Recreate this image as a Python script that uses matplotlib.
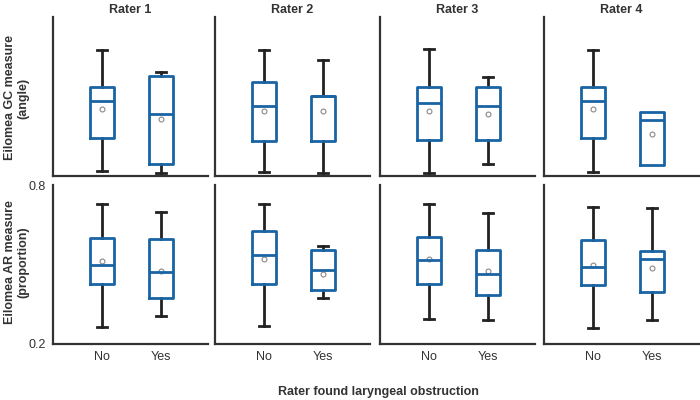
import matplotlib.pyplot as plt

plt.rcParams['font.family'] = ['Liberation Sans', 'DejaVu Sans']

raters = ["Rater 1", "Rater 2", "Rater 3", "Rater 4"]
groups = ["No", "Yes"]
row_labels = ["Eilomea GC measure\n(angle)", "Eilomea AR measure\n(proportion)"]
xlabel = "Rater found laryngeal obstruction"

# GC angle (arbitrary degrees) per rater: [whislo, q1, med, q3, whishi, mean]
gc_no = [
    [25.3, 58.7, 95.7, 110.0, 146.7, 87.7],
    [24.0, 55.7, 90.0, 114.7, 146.7, 85.3],
    [23.0, 56.3, 93.0, 109.3, 147.7, 85.7],
    [24.3, 58.7, 95.3, 109.7, 146.7, 87.0],
]
gc_yes = [
    [23.3, 31.7, 82.7, 120.3, 125.0, 77.0],
    [23.0, 55.7, 100.3, 100.3, 137.0, 85.3],
    [32.0, 56.0, 90.3, 110.0, 119.7, 82.0],
    [31.3, 31.3, 76.7, 84.3, 84.3, 62.7],
]
# AR proportion per rater
ar_no = [
    [0.266, 0.426, 0.499, 0.599, 0.730, 0.513],
    [0.268, 0.425, 0.536, 0.627, 0.730, 0.519],
    [0.296, 0.426, 0.517, 0.605, 0.730, 0.521],
    [0.259, 0.421, 0.490, 0.591, 0.718, 0.499],
]
ar_yes = [
    [0.307, 0.375, 0.473, 0.595, 0.700, 0.477],
    [0.375, 0.402, 0.481, 0.556, 0.569, 0.466],
    [0.289, 0.385, 0.464, 0.555, 0.696, 0.475],
    [0.291, 0.395, 0.519, 0.550, 0.713, 0.488],
]
ar_ticks = [0.2, 0.8]

blue = "#1a64a3"
dark = "#333333"


def stats(v, label):
    return dict(whislo=v[0], q1=v[1], med=v[2], q3=v[3], whishi=v[4],
                mean=v[5], label=label, fliers=[])


fig = plt.figure(figsize=(7, 4), dpi=100)
lefts = [53, 215, 380, 544]
rows = [(0.56, gc_no, gc_yes, (20, 180)), (0.14, ar_no, ar_yes, (0.2, 0.8))]

for r, (bottom, no_vals, yes_vals, ylim) in enumerate(rows):
    for c in range(4):
        ax = fig.add_axes([lefts[c] / 700, bottom, 155 / 700, 0.3975])
        vals = [no_vals[c], yes_vals[c]]
        bs = [stats(vals[0], groups[0]), stats(vals[1], groups[1])]
        # no whiskers/caps when the whiskers sit on the box edges
        caps = [0 if (v[0] == v[1] and v[3] == v[4]) else 0.18 for v in vals]
        ax.bxp(bs, positions=[1, 2], widths=0.4, capwidths=caps,
               showmeans=True, showfliers=False,
               boxprops=dict(color=blue, linewidth=2, zorder=3),
               medianprops=dict(color=blue, linewidth=2, zorder=3),
               whiskerprops=dict(color="#222222", linewidth=2),
               capprops=dict(color="#222222", linewidth=2),
               meanprops=dict(marker="o", markersize=3.5, markerfacecolor="white",
                              markeredgecolor="#888888", markeredgewidth=0.8))
        ax.set_xlim(0.17, 2.8)
        ax.set_ylim(*ylim)
        for s in ["top", "right"]:
            ax.spines[s].set_visible(False)
        for s in ["left", "bottom"]:
            ax.spines[s].set_color(dark)
            ax.spines[s].set_linewidth(1.6)
        ax.tick_params(length=0, labelsize=9, labelcolor=dark, pad=5)
        if r == 0:
            ax.set_xticks([])
            ax.set_yticks([])
            ax.set_title(raters[c], fontsize=9, fontweight="bold", color=dark, pad=3)
        else:
            ax.set_xticks([1, 2], groups)
            if c == 0:
                ax.set_yticks(ar_ticks, [str(t) for t in ar_ticks])
            else:
                ax.set_yticks([])

fig.text(0.024, 0.755, row_labels[0], rotation=90, ha="center", va="center",
         fontsize=9, fontweight="bold", color=dark, multialignment="center")
fig.text(0.024, 0.345, row_labels[1], rotation=90, ha="center", va="center",
         fontsize=9, fontweight="bold", color=dark, multialignment="center")
fig.text(0.541, 0.02, xlabel, ha="center", va="center",
         fontsize=9, fontweight="bold", color=dark)

fig.savefig("out.png", dpi=100)
